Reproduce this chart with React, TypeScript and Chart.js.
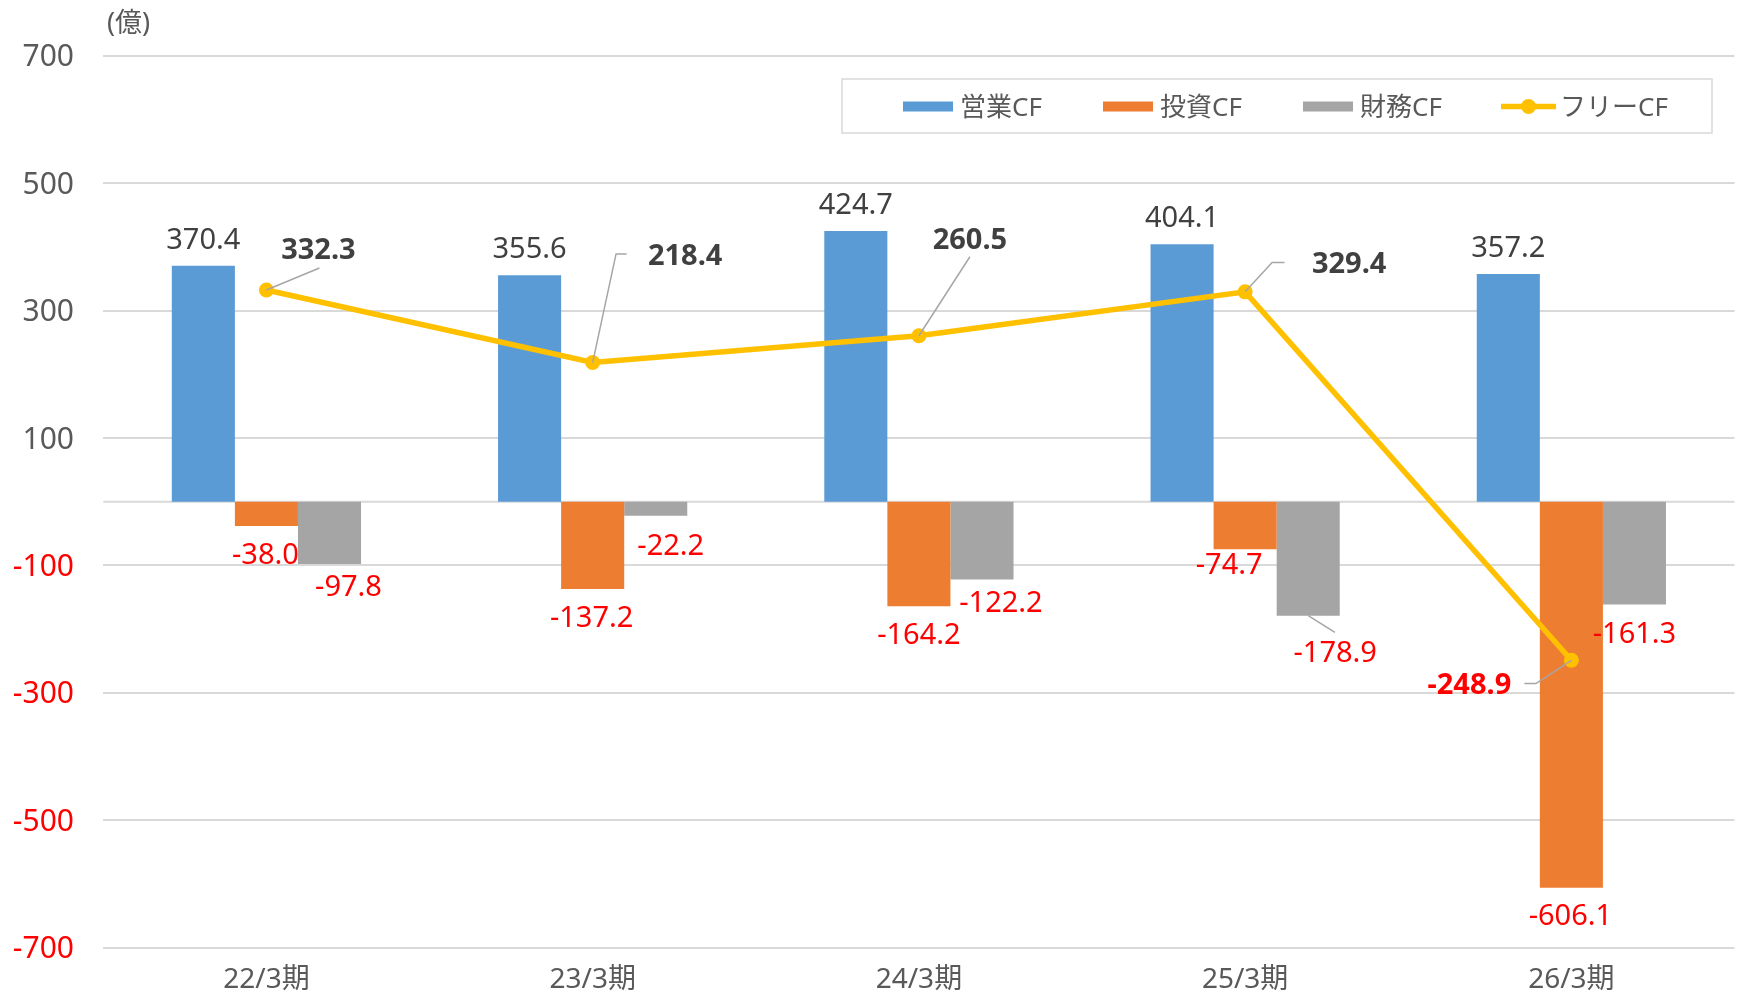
import { useEffect, useRef } from "react";
import { Chart, registerables } from "chart.js";

Chart.register(...registerables);

const categories = ["22/3期", "23/3期", "24/3期", "25/3期", "26/3期"];
const operatingCF = [370.4, 355.6, 424.7, 404.1, 357.2];
const investingCF = [-38.0, -137.2, -164.2, -74.7, -606.1];
const financingCF = [-97.8, -22.2, -122.2, -178.9, -161.3];
const freeCF = [332.3, 218.4, 260.5, 329.4, -248.9];
const seriesNames = ["営業CF", "投資CF", "財務CF", "フリーCF"];
const yMin = -700;
const yMax = 700;
const yStep = 200;
const unitLabel = "(億)";

const COLORS = ["#5B9BD5", "#ED7D31", "#A5A5A5", "#FFC000"];
const FONT = '"Noto Sans", "Noto Sans CJK JP", sans-serif';
const TEXT = "#595959";
const DARK = "#404040";
const RED = "#FF0000";

// label centre offsets relative to the bar end (dx, dy)
const barLabelOffsets = [
  [[0, -27.5], [0, -27.5], [0, -27.5], [0, -27.5], [0, -27.5]],
  [[-1, 27.5], [-1, 27.5], [0, 27.5], [-16, 14], [-1, 27]],
  [[19, 22], [15, 29], [19, 22], [27, 35.5], [0, 28]],
];
// leader lines for bar labels (series index, point index, end offset)
const barLeaders = [{ s: 2, i: 3, end: [26.7, 16.7] }];
// FCF label centre offsets relative to the point
const fcfLabelOffsets = [[52, -41], [92.5, -108], [51, -97], [104, -29], [-102, 23.5]];
const fcfLeaders = [
  [[53, -22]],
  [[23.4, -108.6], [34, -108.6]],
  [[51, -79]],
  [[27, -29.3], [39.4, -29.3]],
  [[-35.5, 23.3], [-47, 23.3]],
];

function drawText(ctx: CanvasRenderingContext2D, text: string, cx: number, cy: number, size: number, weight: string, color: string, align: CanvasTextAlign = "center") {
  ctx.save();
  ctx.font = `${weight} ${size}px ${FONT}`;
  ctx.fillStyle = color;
  ctx.textAlign = align;
  ctx.textBaseline = "alphabetic";
  ctx.fillText(text, cx, cy + size * 0.357);
  ctx.restore();
}

export default function App() {
  const ref = useRef<HTMLCanvasElement>(null);

  useEffect(() => {
    document.body.style.margin = "0";
    const canvas = ref.current!;
    const barSeries = [operatingCF, investingCF, financingCF];

    const labelPlugin = {
      id: "customLabels",
      beforeDatasetsDraw(chart: any) {
        const { ctx, chartArea, scales } = chart;
        const y0 = scales.y.getPixelForValue(0);
        ctx.save();
        ctx.strokeStyle = "#D9D9D9";
        ctx.lineWidth = 2;
        ctx.beginPath();
        ctx.moveTo(chartArea.left, y0);
        ctx.lineTo(chartArea.right, y0);
        ctx.stroke();
        ctx.restore();
      },
      afterDatasetsDraw(chart: any) {
        const { ctx } = chart;
        ctx.save();
        ctx.strokeStyle = "#A6A6A6";
        ctx.lineWidth = 1.5;
        barLeaders.forEach((ld) => {
          const el = chart.getDatasetMeta(ld.s).data[ld.i];
          ctx.beginPath();
          ctx.moveTo(el.x, el.y);
          ctx.lineTo(el.x + ld.end[0], el.y + ld.end[1]);
          ctx.stroke();
        });
        const lineMeta = chart.getDatasetMeta(3);
        lineMeta.data.forEach((pt: any, i: number) => {
          ctx.beginPath();
          ctx.moveTo(pt.x, pt.y);
          fcfLeaders[i].forEach((p) => ctx.lineTo(pt.x + p[0], pt.y + p[1]));
          ctx.stroke();
        });
        ctx.restore();

        barSeries.forEach((vals, s) => {
          const meta = chart.getDatasetMeta(s);
          meta.data.forEach((el: any, i: number) => {
            const v = vals[i];
            const [dx, dy] = barLabelOffsets[s][i];
            drawText(ctx, v.toFixed(1), el.x + dx, el.y + dy, 29, "normal", v < 0 ? RED : DARK);
          });
        });
        lineMeta.data.forEach((pt: any, i: number) => {
          const v = freeCF[i];
          const [dx, dy] = fcfLabelOffsets[i];
          drawText(ctx, v.toFixed(1), pt.x + dx, pt.y + dy, 29, "bold", v < 0 ? RED : DARK);
        });
      },
      afterDraw(chart: any) {
        const { ctx } = chart;
        drawText(ctx, unitLabel, 107, 22, 27, "normal", TEXT, "left");
        // legend
        ctx.save();
        ctx.strokeStyle = "#D9D9D9";
        ctx.lineWidth = 1.5;
        ctx.strokeRect(842, 79, 870, 54);
        const cy = 106.5;
        const starts = [903, 1103, 1303, 1501];
        seriesNames.forEach((name, k) => {
          const x = starts[k];
          if (k < 3) {
            ctx.fillStyle = COLORS[k];
            ctx.fillRect(x, cy - 5, 50, 10);
            drawText(ctx, name, x + 57, cy, 26, "normal", TEXT, "left");
          } else {
            ctx.strokeStyle = COLORS[3];
            ctx.lineWidth = 5.5;
            ctx.beginPath();
            ctx.moveTo(x, cy);
            ctx.lineTo(x + 55, cy);
            ctx.stroke();
            ctx.fillStyle = COLORS[3];
            ctx.beginPath();
            ctx.arc(x + 27.5, cy, 7.5, 0, Math.PI * 2);
            ctx.fill();
            drawText(ctx, name, x + 59, cy, 26, "normal", TEXT, "left");
          }
        });
        ctx.restore();
      },
    };

    const chart = new Chart(canvas, {
      type: "bar",
      data: {
        labels: categories,
        datasets: [
          { type: "bar", label: seriesNames[0], data: operatingCF, backgroundColor: COLORS[0], order: 1 },
          { type: "bar", label: seriesNames[1], data: investingCF, backgroundColor: COLORS[1], order: 1 },
          { type: "bar", label: seriesNames[2], data: financingCF, backgroundColor: COLORS[2], order: 1 },
          {
            type: "line",
            label: seriesNames[3],
            data: freeCF,
            borderColor: COLORS[3],
            backgroundColor: COLORS[3],
            borderWidth: 5.5,
            pointRadius: 7.5,
            pointBorderWidth: 0,
            pointBackgroundColor: COLORS[3],
            order: 0,
          } as any,
        ],
      },
      options: {
        animation: false,
        responsive: false,
        devicePixelRatio: 1,
        datasets: { bar: { barPercentage: 1, categoryPercentage: 0.58 } },
        layout: { padding: { top: 55.7, right: 7, left: 0, bottom: 0 } },
        plugins: { legend: { display: false }, tooltip: { enabled: false }, title: { display: false } },
        scales: {
          x: {
            grid: { display: false },
            border: { display: false },
            ticks: { color: TEXT, font: { family: FONT, size: 28 }, padding: 8 },
            afterFit: (s: any) => { s.height = 46.3; },
          },
          y: {
            min: yMin,
            max: yMax,
            ticks: {
              stepSize: yStep,
              padding: 29.3,
              labelOffset: 2,
              color: (c: any) => (c.tick && c.tick.value < 0 ? RED : TEXT),
              font: { family: FONT, size: 30 },
              callback: (v: any) => String(v),
            },
            grid: { color: "#D9D9D9", lineWidth: 2, drawTicks: false },
            border: { display: false },
            afterFit: (s: any) => { s.width = 103.3; },
          },
        },
      },
      plugins: [labelPlugin],
    });
    return () => chart.destroy();
  }, []);

  return (
    <div style={{ width: 1742, height: 995, position: "relative", background: "#fff" }}>
      <canvas ref={ref} width={1742} height={995} style={{ width: 1742, height: 995, display: "block" }} />
    </div>
  );
}
